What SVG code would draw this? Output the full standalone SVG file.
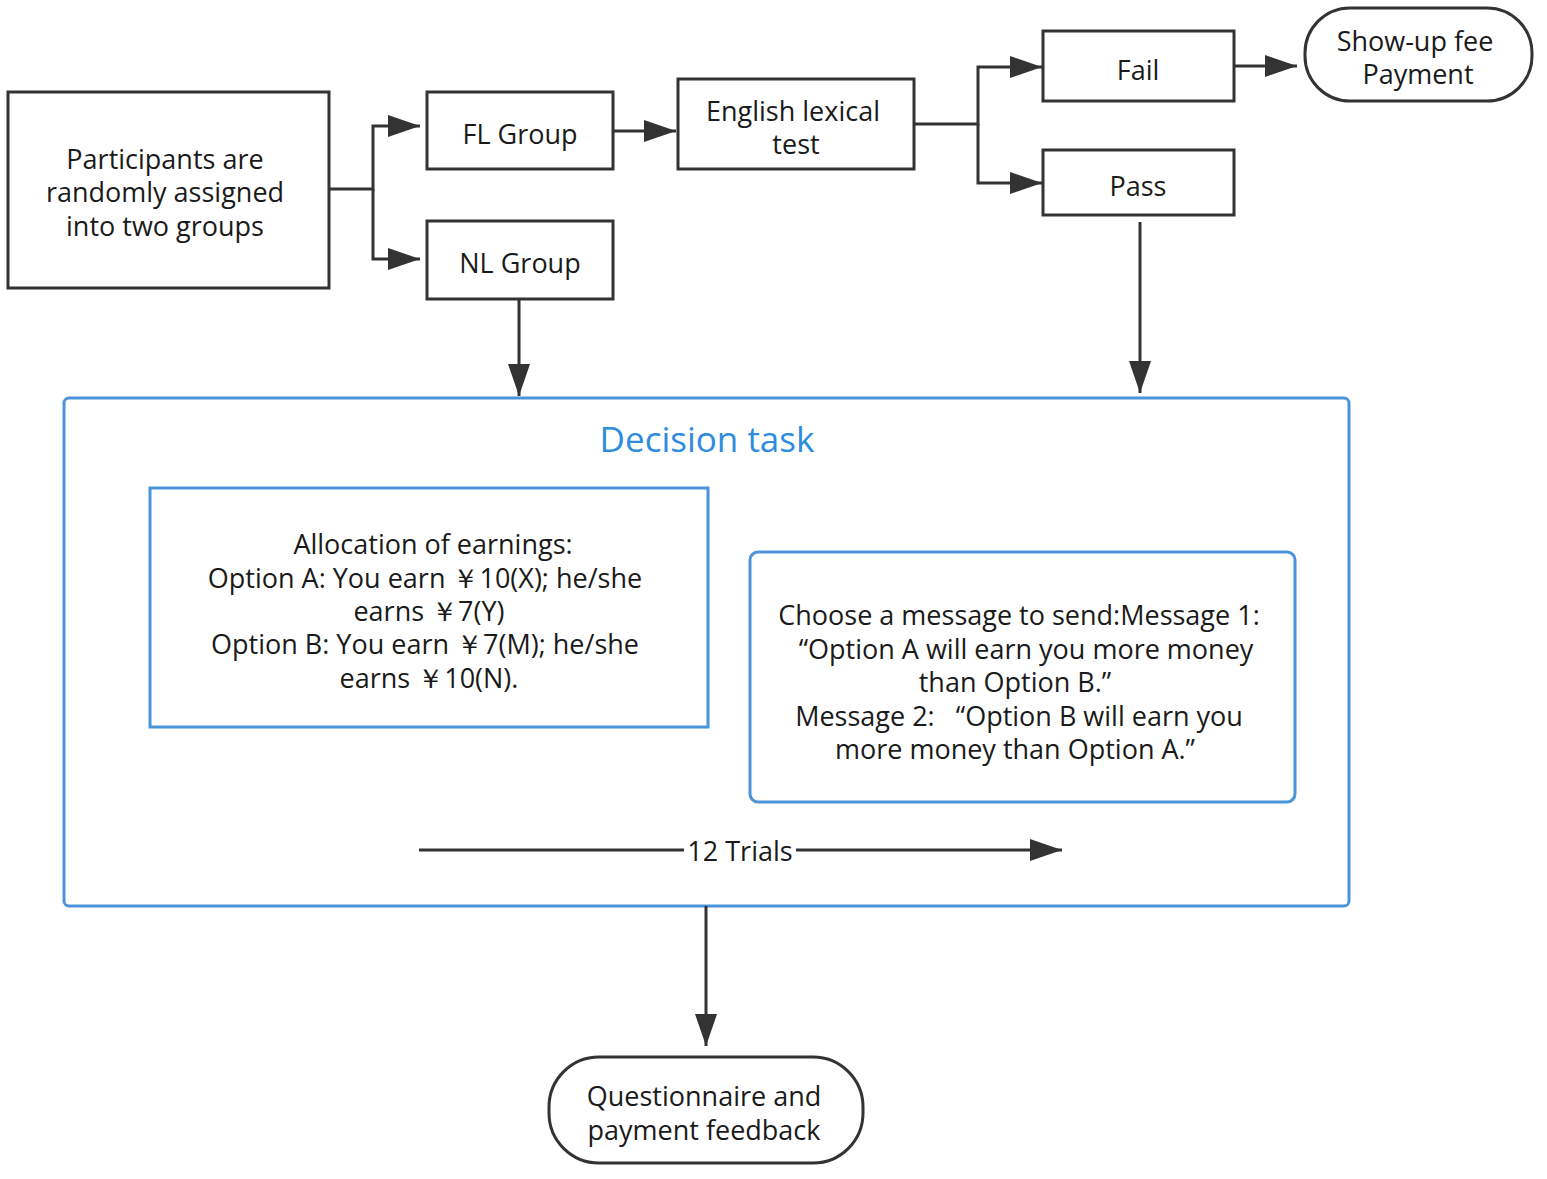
<svg xmlns="http://www.w3.org/2000/svg" width="1547" height="1179" viewBox="0 0 1547 1179">
<style>
.box{fill:#fff;stroke:#333;stroke-width:3}
.blue{fill:#fff;stroke:#4a94dc;stroke-width:3}
.t{font-family:"Open Sans","Noto Sans","DejaVu Sans",sans-serif;font-size:27px;fill:#1a1a1a;text-anchor:middle}
.title{font-family:"Open Sans","Noto Sans","DejaVu Sans",sans-serif;font-size:35px;fill:#2d8ce0;text-anchor:middle}
.c{fill:none;stroke:#333;stroke-width:3}
</style>
<defs>
<marker id="ah" markerUnits="userSpaceOnUse" markerWidth="32" markerHeight="22" refX="32" refY="11" orient="auto">
<path d="M0,0 L32,11 L0,22 z" fill="#333"/>
</marker>
</defs>
<rect width="1547" height="1179" fill="#fff"/>
<g id="decision-task">
<rect class="blue" x="64" y="398" width="1285" height="508" rx="5"/>
<text class="title" x="707" y="452">Decision task</text>
</g>
<g id="participants">
<rect class="box" x="8" y="92" width="321" height="196"/>
<text class="t" x="165" y="169">Participants are</text>
<text class="t" x="165" y="202">randomly assigned</text>
<text class="t" x="165" y="236">into two groups</text>
</g>
<g id="fl-group">
<rect class="box" x="427" y="92" width="186" height="77"/>
<text class="t" x="520" y="144">FL Group</text>
</g>
<g id="nl-group">
<rect class="box" x="427" y="221" width="186" height="78"/>
<text class="t" x="520" y="273">NL Group</text>
</g>
<g id="english-test">
<rect class="box" x="678" y="79" width="236" height="90"/>
<text class="t" x="793" y="121">English lexical</text>
<text class="t" x="796" y="154">test</text>
</g>
<g id="fail">
<rect class="box" x="1043" y="31" width="191" height="70"/>
<text class="t" x="1138" y="80">Fail</text>
</g>
<g id="pass">
<rect class="box" x="1043" y="150" width="191" height="65"/>
<text class="t" x="1138" y="196">Pass</text>
</g>
<g id="show-up">
<rect class="box" x="1305" y="8" width="227" height="93" rx="45"/>
<text class="t" x="1415" y="51">Show-up fee</text>
<text class="t" x="1418" y="84">Payment</text>
</g>
<g id="allocation">
<rect class="blue" x="150" y="488" width="558" height="239"/>
<text class="t" x="433" y="554">Allocation of earnings:</text>
<text class="t" x="425" y="588">Option A: You earn ￥10(X); he/she</text>
<text class="t" x="429" y="621">earns ￥7(Y)</text>
<text class="t" x="425" y="654">Option B: You earn ￥7(M); he/she</text>
<text class="t" x="429" y="688">earns ￥10(N).</text>
</g>
<g id="message">
<rect class="blue" x="750" y="552" width="545" height="250" rx="8"/>
<text class="t" x="1019" y="625">Choose a message to send:Message 1:</text>
<text class="t" x="1026" y="659">“Option A will earn you more money</text>
<text class="t" x="1015" y="692">than Option B.”</text>
<text class="t" x="1019" y="726" xml:space="preserve">Message 2:   “Option B will earn you</text>
<text class="t" x="1015" y="759">more money than Option A.”</text>
</g>
<g id="questionnaire">
<rect class="box" x="549" y="1057" width="314" height="106" rx="50"/>
<text class="t" x="704" y="1106">Questionnaire and</text>
<text class="t" x="704" y="1140">payment feedback</text>
</g>
<g id="connectors">
<path class="c" d="M329,189 H373 V126 H420" marker-end="url(#ah)"/>
<path class="c" d="M373,189 V259 H420" marker-end="url(#ah)"/>
<path class="c" d="M613,131 H676" marker-end="url(#ah)"/>
<path class="c" d="M914,124 H978 V67 H1042" marker-end="url(#ah)"/>
<path class="c" d="M978,124 V183 H1042" marker-end="url(#ah)"/>
<path class="c" d="M1234,66 H1297" marker-end="url(#ah)"/>
<path class="c" d="M519,299 V396" marker-end="url(#ah)"/>
<path class="c" d="M1140,222 V393" marker-end="url(#ah)"/>
<path class="c" d="M706,906 V1046" marker-end="url(#ah)"/>
<path class="c" d="M419,850 H684"/>
<path class="c" d="M796,850 H1062" marker-end="url(#ah)"/>
<text class="t" x="740" y="861">12 Trials</text>
</g>
</svg>
